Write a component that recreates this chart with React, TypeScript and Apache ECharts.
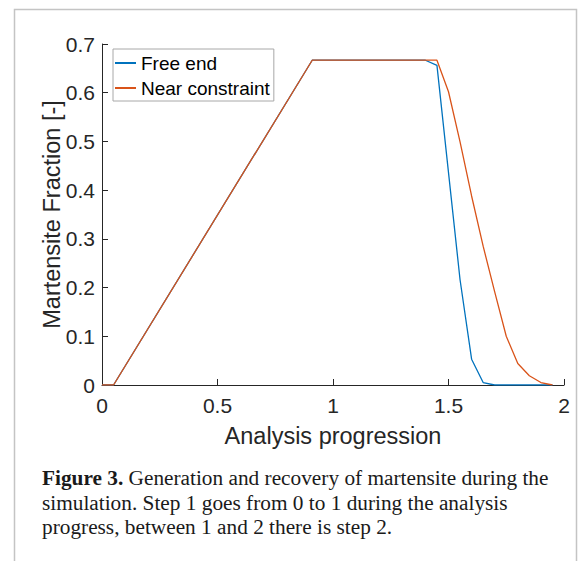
import React, { useEffect, useRef } from "react";
import * as echarts from "echarts";

const X_FREE = [0, 0.05, 0.91, 1.4, 1.45, 1.55, 1.6, 1.65, 1.7, 1.95];
const Y_FREE = [0, 0, 0.6667, 0.6667, 0.656, 0.216, 0.053, 0.005, 0, 0];

const X_NEAR = [0, 0.05, 0.91, 1.45, 1.5, 1.55, 1.6, 1.65, 1.7, 1.75, 1.8, 1.85, 1.9, 1.95];
const Y_NEAR = [0, 0, 0.6667, 0.6667, 0.602, 0.499, 0.388, 0.285, 0.191, 0.1, 0.044, 0.019, 0.005, 0];

const SERIES_NAMES = ["Free end", "Near constraint"];
const X_TITLE = "Analysis progression";
const Y_TITLE = "Martensite Fraction [-]";
const CAPTION_LINES = [
  "{b|Figure 3.} Generation and recovery of martensite during the",
  "simulation. Step 1 goes from 0 to 1 during the analysis",
  "progress, between 1 and 2 there is step 2.",
];

const SANS = "'Liberation Sans', Arial, Helvetica, sans-serif";
const SERIF = "'Liberation Serif', 'Times New Roman', serif";
const AX = "#262626";

export default function App() {
  const ref = useRef<HTMLDivElement>(null);
  useEffect(() => {
    if (!ref.current) return;
    const chart = echarts.init(ref.current, undefined, { renderer: "svg" });
    const zip = (xs: number[], ys: number[]) => xs.map((x, i) => [x, ys[i]]);
    const capY = [478, 502.5, 527];
    chart.setOption({
      animation: false,
      grid: { left: 102, right: 20, top: 44, bottom: 176, containLabel: false },
      xAxis: {
        type: "value",
        min: 0,
        max: 2,
        interval: 0.5,
        name: X_TITLE,
        nameLocation: "middle",
        nameGap: 39,
        nameMoveOverlap: false,
        nameTextStyle: { fontSize: 23.5, color: AX, fontFamily: SANS },
        axisLine: { show: true, onZero: false, lineStyle: { color: AX, width: 1 } },
        axisTick: { show: true, inside: true, length: 6, lineStyle: { color: AX, width: 1 } },
        axisLabel: { color: AX, fontSize: 21, fontFamily: SANS, margin: 10, formatter: (v: number) => String(v) },
        splitLine: { show: false },
      },
      yAxis: {
        type: "value",
        min: 0,
        max: 0.7,
        interval: 0.1,
        name: Y_TITLE,
        nameLocation: "middle",
        nameGap: 38,
        nameMoveOverlap: false,
        nameTextStyle: { fontSize: 23.5, color: AX, fontFamily: SANS },
        axisLine: { show: true, onZero: false, lineStyle: { color: AX, width: 1 } },
        axisTick: { show: true, inside: true, length: 6, lineStyle: { color: AX, width: 1 } },
        axisLabel: {
          color: AX,
          fontSize: 21,
          fontFamily: SANS,
          margin: 7,
          formatter: (v: number) => (v === 0 ? "0" : v.toFixed(1)),
        },
        splitLine: { show: false },
      },
      legend: {
        orient: "vertical",
        left: 113,
        top: 49,
        padding: [3, 4, 2, 2],
        itemGap: 3,
        itemWidth: 21,
        itemHeight: 2,
        icon: "rect",
        borderColor: "#a8a8a8",
        borderWidth: 1,
        backgroundColor: "#ffffff",
        textStyle: { fontSize: 19, color: "#000", fontFamily: SANS, lineHeight: 22 },
        data: SERIES_NAMES,
      },
      series: [
        {
          name: SERIES_NAMES[0],
          type: "line",
          data: zip(X_FREE, Y_FREE),
          symbol: "none",
          lineStyle: { color: "#0072BD", width: 1.3 },
          itemStyle: { color: "#0072BD" },
        },
        {
          name: SERIES_NAMES[1],
          type: "line",
          data: zip(X_NEAR, Y_NEAR),
          symbol: "none",
          lineStyle: { color: "#D95319", width: 1.3 },
          itemStyle: { color: "#D95319" },
        },
      ],
      graphic: [
        {
          type: "polyline",
          silent: true,
          shape: { points: [[14.5, 561], [14.5, 9.5], [576.5, 9.5], [576.5, 561]] },
          style: { stroke: "#c4c4c4", lineWidth: 1.5, fill: "none" },
        },
        ...CAPTION_LINES.map((t, i) => ({
          type: "text",
          x: 42,
          y: capY[i],
          silent: true,
          style: {
            text: t,
            fontSize: 21.3,
            fontFamily: SERIF,
            fill: "#1a1a1a",
            verticalAlign: "middle",
            align: "left",
            rich: { b: { fontWeight: "bold", fontSize: 21.3, fontFamily: SERIF, fill: "#1a1a1a" } },
          },
        })),
      ],
    });
    return () => chart.dispose();
  }, []);
  return (
    <div
      ref={ref}
      style={{ position: "absolute", left: 0, top: 0, width: 584, height: 561, background: "#fff" }}
    />
  );
}
